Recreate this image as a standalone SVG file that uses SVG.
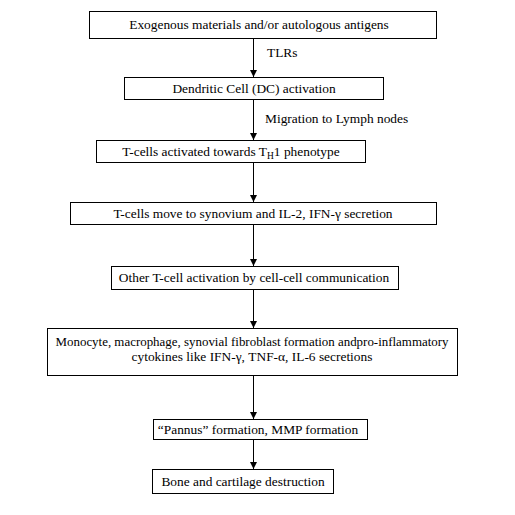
<svg xmlns="http://www.w3.org/2000/svg" width="515" height="515" viewBox="0 0 515 515">
<style>
.box{fill:#fff;stroke:#000;stroke-width:1}
.t{font-family:'Liberation Serif','DejaVu Serif',serif;font-size:13.4px;fill:#000;text-anchor:middle}
.l{font-family:'Liberation Serif','DejaVu Serif',serif;font-size:13.4px;fill:#000}
.c{stroke:#000;stroke-width:1;fill:none;marker-end:url(#ah)}
</style>
<defs>
<marker id="ah" markerWidth="7" markerHeight="8" refX="7" refY="3.5" orient="auto" markerUnits="userSpaceOnUse">
<path d="M0,0 L7,3.5 L0,7 Z" fill="#000"/>
</marker>
</defs>
<rect width="515" height="515" fill="#fff"/>
<g id="connectors">
<line class="c" x1="253.5" y1="38" x2="253.5" y2="77"/>
<line class="c" x1="253.5" y1="99" x2="253.5" y2="140"/>
<line class="c" x1="253.5" y1="162" x2="253.5" y2="202"/>
<line class="c" x1="253.5" y1="225" x2="253.5" y2="266"/>
<line class="c" x1="253.5" y1="289" x2="253.5" y2="328"/>
<line class="c" x1="253.5" y1="375" x2="253.5" y2="419"/>
<line class="c" x1="253.5" y1="439" x2="253.5" y2="469"/>
<text class="l" x="267" y="57">TLRs</text>
<text class="l" x="265" y="123">Migration to Lymph nodes</text>
</g>
<g id="n1"><rect class="box" x="89.5" y="11.5" width="347" height="27"/><text class="t" x="259" y="29">Exogenous materials and/or autologous antigens</text></g>
<g id="n2"><rect class="box" x="124.5" y="77.5" width="259" height="22"/><text class="t" x="254" y="93">Dendritic Cell (DC) activation</text></g>
<g id="n3"><rect class="box" x="96.5" y="140.5" width="269" height="22"/><text class="t" x="231" y="156">T-cells activated towards T<tspan font-size="9.5" dy="3">H</tspan><tspan dy="-3">1 phenotype</tspan></text></g>
<g id="n4"><rect class="box" x="70.5" y="202.5" width="366" height="22"/><text class="t" x="253" y="218">T-cells move to synovium and IL-2, IFN-γ secretion</text></g>
<g id="n5"><rect class="box" x="111.5" y="266.5" width="287" height="23"/><text class="t" x="254" y="282">Other T-cell activation by cell-cell communication</text></g>
<g id="n6"><rect class="box" x="47.5" y="328.5" width="410" height="47"/><text class="t" x="252" y="346" textLength="393" lengthAdjust="spacingAndGlyphs">Monocyte, macrophage, synovial fibroblast formation andpro-inflammatory</text><text class="t" x="252" y="361">cytokines like IFN-γ, TNF-α, IL-6 secretions</text></g>
<g id="n7"><rect class="box" x="153.5" y="419.5" width="214" height="20"/><text class="t" x="258" y="434">“Pannus” formation, MMP formation</text></g>
<g id="n8"><rect class="box" x="152.5" y="469.5" width="181" height="24"/><text class="t" x="243" y="486">Bone and cartilage destruction</text></g>
</svg>
